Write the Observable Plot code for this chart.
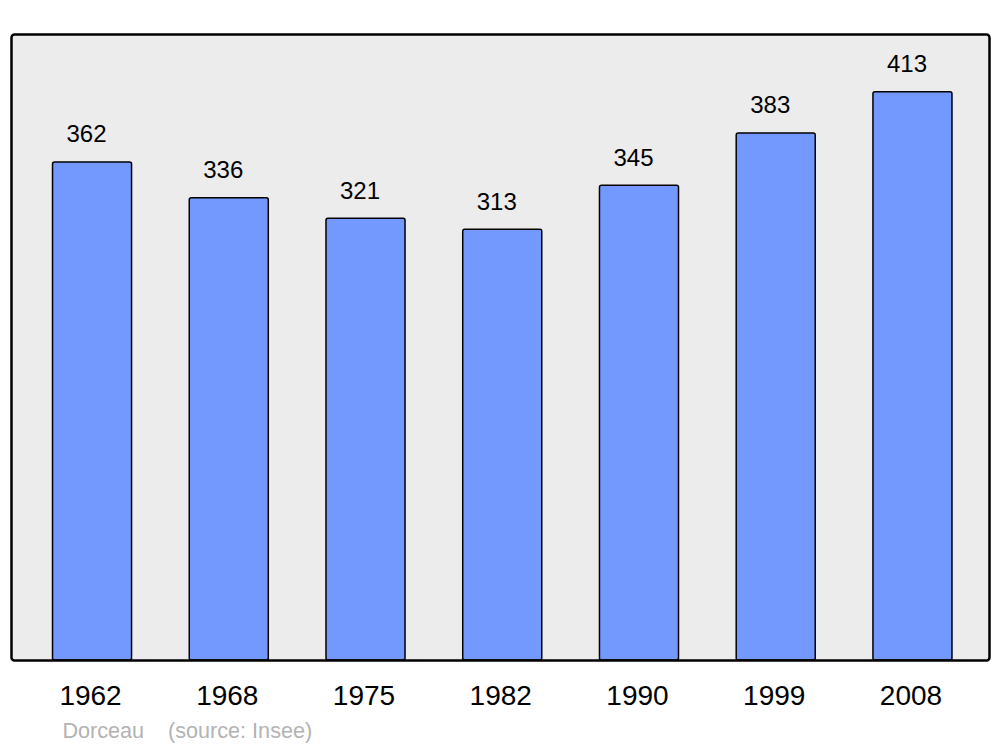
<!DOCTYPE html>
<html>
<head>
<meta charset="utf-8">
<script src="https://cdn.jsdelivr.net/npm/d3@7"></script>
<script src="https://cdn.jsdelivr.net/npm/@observablehq/plot@0.6"></script>
<style>
  html, body { margin: 0; padding: 0; background: #fff; }
  #chart svg { display: block; }
</style>
</head>
<body>
<div id="chart"></div>
<script>
const years = ["1962", "1968", "1975", "1982", "1990", "1999", "2008"];
const population = [362, 336, 321, 313, 345, 383, 413];
const caption = "Dorceau\u00a0\u00a0\u00a0\u00a0(source: Insee)";

const data = years.map((y, i) => ({year: y, value: population[i]}));

const chart = Plot.plot({
  width: 1000,
  height: 747,
  marginLeft: 11,
  marginRight: 11,
  marginTop: 34,
  marginBottom: 87,
  style: {background: "#fff", fontFamily: "'Liberation Sans', Arial, sans-serif", color: "#000"},
  x: {type: "band", domain: years, range: [11.5, 993], paddingInner: 0.422, paddingOuter: 0.3, round: false, label: null},
  y: {domain: [0, 455], axis: null},
  marks: [
    Plot.frame({fill: "#ececec", stroke: "none", rx: 3}),
    Plot.barY(data, {x: "year", y: "value", fill: "#7399ff", stroke: "#000", strokeWidth: 1.5, rx: 2}),
    Plot.text(data, {x: "year", y: "value", text: d => String(d.value), dx: -6, dy: -28, fontSize: 24, fill: "#000"}),
    Plot.frame({stroke: "#000", strokeWidth: 2.5, rx: 3, fill: "none"}),
    Plot.axisX({tickSize: 0, tickPadding: 25, dx: -2, fontSize: 28, label: null, fill: "#000"}),
    Plot.text([caption], {text: d => d, frameAnchor: "bottom-left", dx: 51, dy: 77, textAnchor: "start", fontSize: 21.6, fill: "#b3b3b3"})
  ]
});
document.getElementById("chart").appendChild(chart);
</script>
</body>
</html>
